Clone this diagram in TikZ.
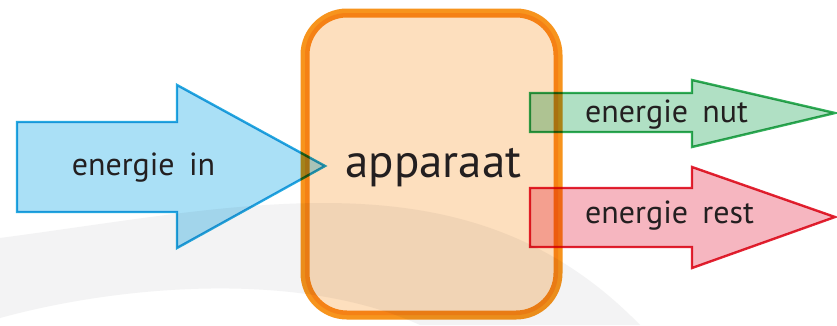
\documentclass[tikz,border=0pt]{standalone}
\usepackage{fontspec}
\setmainfont{PT Sans}
\definecolor{bandgrey}{RGB}{243,243,244}
\definecolor{boxfill}{RGB}{253,223,190}
\definecolor{boxline}{RGB}{247,148,29}
\definecolor{bluefill}{RGB}{170,224,246}
\definecolor{blueline}{RGB}{38,170,225}
\definecolor{greenfill}{RGB}{176,224,196}
\definecolor{greenline}{RGB}{50,175,90}
\definecolor{redfill}{RGB}{246,182,192}
\definecolor{redline}{RGB}{228,36,52}
\definecolor{txt}{RGB}{35,31,32}
\tikzset{
  apparaatbox/.style={draw=boxline, fill=boxfill, line width=9pt, rounded corners=42pt, inner sep=0pt},
  bluearrow/.style={draw=blueline, fill=bluefill, line width=2.4pt, line join=miter},
  greenarrow/.style={draw=greenline, fill=greenfill, line width=2.4pt, line join=miter},
  redarrow/.style={draw=redline, fill=redfill, line width=2.4pt, line join=miter},
  smalltext/.style={text=txt, font=\fontsize{32}{32}\selectfont, inner sep=0pt},
  bigtext/.style={text=txt, font=\fontsize{47}{47}\selectfont, inner sep=0pt}
}
\begin{document}
\begin{tikzpicture}[x=1pt,y=-1pt]
\useasboundingbox[fill=white] (0,0) rectangle (837,325);
% faint background swoosh
\fill[bandgrey] (0,238) .. controls (250,205) and (470,150) .. (640,325) -- (420,325)
   .. controls (300,270) and (120,285) .. (0,318) -- cycle;
\begin{scope}[blend mode=multiply]
  \node[apparaatbox, minimum width=253pt, minimum height=302pt] (app) at (431.5,164) {};
  % energie in
  \draw[bluearrow] (17,122) -- (177,122) -- (177,85) -- (325,166) -- (177,248) -- (177,212) -- (17,212) -- cycle;
  % energie nut
  \draw[greenarrow] (530,93) -- (692,93) -- (692,80) -- (835,113) -- (692,147) -- (692,132) -- (530,132) -- cycle;
  % energie rest
  \draw[redarrow] (530,188) -- (692,188) -- (692,167) -- (835,217) -- (692,268) -- (692,247) -- (530,247) -- cycle;
\end{scope}
\node[bigtext, anchor=base] (lapp) at (433.5,177) {apparaat};
\node[smalltext, anchor=base] (lin) at (143.5,175) {energie\hspace{0.45em}in};
\node[smalltext, anchor=base west] (lnut) at (585,122) {energie\hspace{0.45em}nut};
\node[smalltext, anchor=base west] (lrest) at (585,223) {energie\hspace{0.45em}rest};
\end{tikzpicture}
\end{document}
